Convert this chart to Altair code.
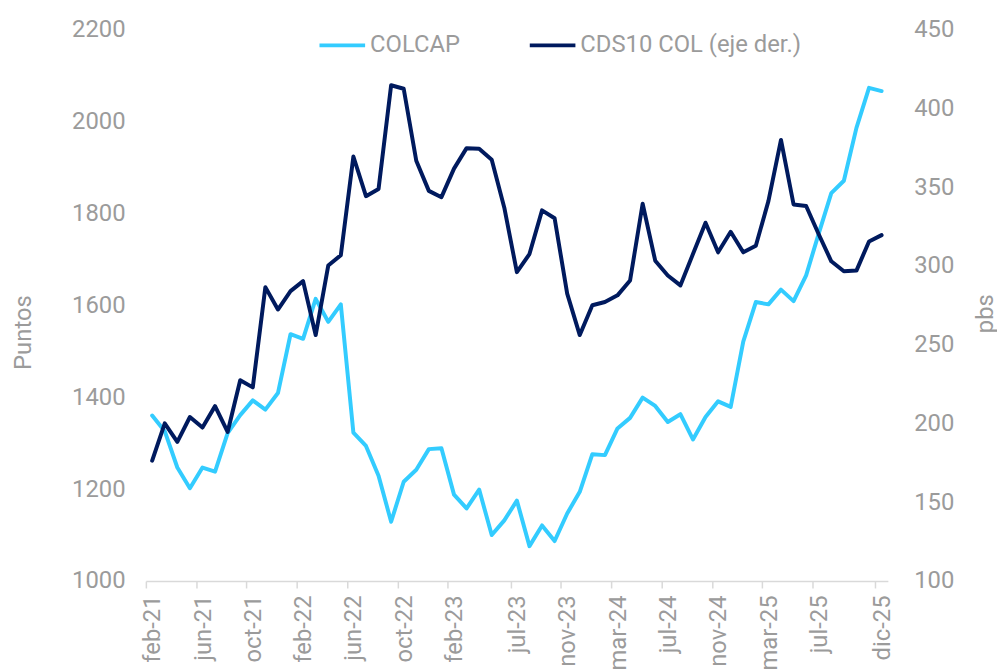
import altair as alt
import pandas as pd

month_abbr = ["ene", "feb", "mar", "abr", "may", "jun", "jul", "ago", "sep", "oct", "nov", "dic"]
years = [21, 22, 23, 24, 25]
months = [f"{m}-{y}" for y in years for m in month_abbr][1:]  # feb-21 .. dic-25

colcap = [1360, 1326, 1247, 1202, 1247, 1238, 1322, 1361, 1393, 1373, 1409, 1537,
          1527, 1614, 1564, 1602, 1323, 1294, 1229, 1129, 1216, 1242, 1287, 1289,
          1188, 1158, 1199, 1100, 1132, 1175, 1076, 1121, 1087, 1147, 1194, 1276,
          1274, 1332, 1355, 1399, 1381, 1346, 1363, 1308, 1357, 1391, 1379, 1521,
          1607, 1602, 1634, 1609, 1665, 1756, 1844, 1871, 1986, 2073, 2066]

cds = [176.4, 200.1, 188.3, 204.1, 197.4, 211.0, 194.6, 227.4, 222.9, 286.5, 272.3, 284.0,
       290.3, 256.1, 300.2, 306.8, 369.4, 344.2, 348.8, 414.6, 412.4, 366.7, 347.6, 343.6,
       361.7, 374.7, 374.3, 367.3, 336.9, 296.0, 307.5, 335.2, 330.2, 282.4, 256.1, 275.0,
       277.1, 281.3, 290.7, 339.4, 303.3, 293.9, 287.6, 307.5, 327.4, 308.6, 321.6, 308.6,
       312.8, 341.1, 379.9, 339.0, 338.0, 320.1, 302.9, 296.6, 297.0, 315.5, 319.5]

tick_idx = [0, 4, 8, 12, 16, 20, 24, 29, 33, 37, 41, 45, 49, 53, 58]
left_ticks = [1000, 1200, 1400, 1600, 1800, 2000, 2200]
right_ticks = [100, 150, 200, 250, 300, 350, 400, 450]

names = ["COLCAP", "CDS10 COL (eje der.)"]
colors = ["#33CCFF", "#001A5E"]

df = pd.DataFrame({"pos": [i + 0.5 for i in range(len(months))],
                   "mes": months, "colcap": colcap, "cds": cds})

GRAY = "#9b9b9b"
FONT = "Roboto"
label_arr = "[" + ",".join(f"'{m}'" for m in months) + ",'']"

x_enc = alt.X("pos:Q",
              scale=alt.Scale(domain=[0, len(months)], nice=False, zero=False),
              axis=alt.Axis(values=tick_idx, labelExpr=f"{label_arr}[datum.value]",
                            labelAngle=270, labelOffset=7, labelPadding=7,
                            labelFontSize=24, labelColor=GRAY, labelFont=FONT,
                            tickSize=7, tickColor="#d9d9d9", tickWidth=1.5,
                            domainColor="#d9d9d9", domainWidth=1.5,
                            grid=False, title=None, labelOverlap=False))

color_enc = alt.Color("serie:N", scale=alt.Scale(domain=names, range=colors),
                      legend=alt.Legend(title=None, orient="none", direction="horizontal",
                                        legendX=173, legendY=-9,
                                        symbolType="stroke", symbolSize=2116,
                                        symbolStrokeWidth=4, labelOffset=3,
                                        columnPadding=62, labelFontSize=24,
                                        labelLimit=400,
                                        labelColor=GRAY, labelFont=FONT))

line1 = alt.Chart(df).transform_calculate(serie=f"'{names[0]}'").mark_line(
    strokeWidth=4, strokeJoin="round", strokeCap="round").encode(
    x=x_enc,
    y=alt.Y("colcap:Q",
            scale=alt.Scale(domain=[1000, 2200], nice=False, zero=False),
            axis=alt.Axis(values=left_ticks, orient="left", domain=False, ticks=False,
                          format="d",
                          grid=False, labelFontSize=24, labelColor=GRAY, labelFont=FONT,
                          labelPadding=21, title="Puntos", titleFontSize=24,
                          titleFontWeight="normal", titleColor=GRAY, titleFont=FONT,
                          titleAngle=270, titleX=-123, titleY=305,
                          titleAlign="center", titleBaseline="middle")),
    color=color_enc,
)

line2 = alt.Chart(df).transform_calculate(serie=f"'{names[1]}'").mark_line(
    strokeWidth=4, strokeJoin="round", strokeCap="round").encode(
    x=x_enc,
    y=alt.Y("cds:Q",
            scale=alt.Scale(domain=[100, 450], nice=False, zero=False),
            axis=alt.Axis(values=right_ticks, orient="right", domain=False, ticks=False,
                          format="d",
                          grid=False, labelFontSize=24, labelColor=GRAY, labelFont=FONT,
                          labelPadding=26, title="pbs", titleFontSize=24,
                          titleFontWeight="normal", titleColor=GRAY, titleFont=FONT,
                          titleAngle=270, titleX=98, titleY=286,
                          titleAlign="center", titleBaseline="middle")),
    color=color_enc,
)

chart = alt.layer(line1, line2).resolve_scale(y="independent").properties(
    width=748, height=556,
    autosize=alt.AutoSizeParams(type="none"),
    padding={"left": 139, "top": 19, "right": 110, "bottom": 86},
).configure_view(stroke=None)

chart.save("out.html", embed_options={"renderer": "svg", "actions": False})
